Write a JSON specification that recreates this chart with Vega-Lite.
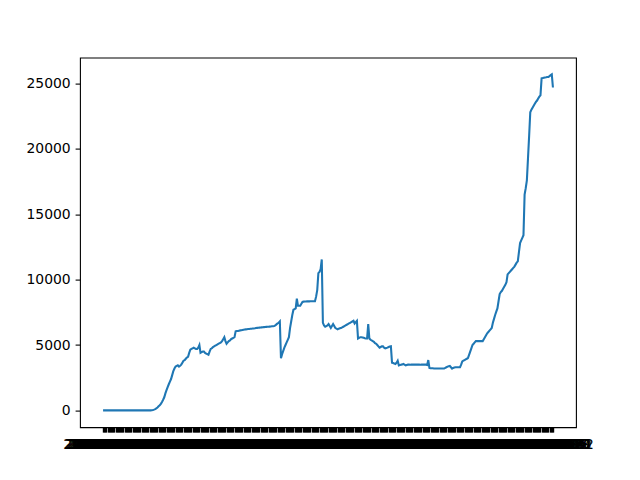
{"$schema":"https://vega.github.io/schema/vega-lite/v6.json","width":496,"height":369.6,"autosize":{"type":"none"},"padding":{"left":80,"top":57.6,"right":64,"bottom":52.8},"background":"white","config":{"view":{"stroke":"black","strokeWidth":1.1},"font":"DejaVu Sans"},"data":{"values":[
{"d":"2020-01-22","v":0},{"d":"2020-01-23","v":0},{"d":"2020-01-24","v":0},{"d":"2020-01-25","v":0},{"d":"2020-01-26","v":0},{"d":"2020-01-27","v":0},{"d":"2020-01-28","v":0},{"d":"2020-01-29","v":0},{"d":"2020-01-30","v":0},{"d":"2020-01-31","v":0},
{"d":"2020-02-01","v":0},{"d":"2020-02-02","v":0},{"d":"2020-02-03","v":0},{"d":"2020-02-04","v":0},{"d":"2020-02-05","v":0},{"d":"2020-02-06","v":0},{"d":"2020-02-07","v":0},{"d":"2020-02-08","v":0},{"d":"2020-02-09","v":0},{"d":"2020-02-10","v":0},{"d":"2020-02-11","v":0},{"d":"2020-02-12","v":0},{"d":"2020-02-13","v":0},{"d":"2020-02-14","v":0},{"d":"2020-02-15","v":0},{"d":"2020-02-16","v":0},{"d":"2020-02-17","v":0},{"d":"2020-02-18","v":0},{"d":"2020-02-19","v":0},{"d":"2020-02-20","v":0},{"d":"2020-02-21","v":0},{"d":"2020-02-22","v":0},{"d":"2020-02-23","v":0},{"d":"2020-02-24","v":0},{"d":"2020-02-25","v":0},{"d":"2020-02-26","v":0},{"d":"2020-02-27","v":0},{"d":"2020-02-28","v":0},{"d":"2020-02-29","v":0},
{"d":"2020-03-01","v":0},{"d":"2020-03-02","v":0},{"d":"2020-03-03","v":0},{"d":"2020-03-04","v":0},{"d":"2020-03-05","v":10},{"d":"2020-03-06","v":30},{"d":"2020-03-07","v":60},{"d":"2020-03-08","v":100},{"d":"2020-03-09","v":150},{"d":"2020-03-10","v":230},{"d":"2020-03-11","v":320},{"d":"2020-03-12","v":400},{"d":"2020-03-13","v":500},{"d":"2020-03-14","v":650},{"d":"2020-03-15","v":820},{"d":"2020-03-16","v":1000},{"d":"2020-03-17","v":1300},{"d":"2020-03-18","v":1550},{"d":"2020-03-19","v":1780},{"d":"2020-03-20","v":2000},{"d":"2020-03-21","v":2200},{"d":"2020-03-22","v":2400},{"d":"2020-03-23","v":2700},{"d":"2020-03-24","v":3000},{"d":"2020-03-25","v":3200},{"d":"2020-03-26","v":3350},{"d":"2020-03-27","v":3400},{"d":"2020-03-28","v":3450},{"d":"2020-03-29","v":3350},{"d":"2020-03-30","v":3420},{"d":"2020-03-31","v":3500},
{"d":"2020-04-01","v":3650},{"d":"2020-04-02","v":3800},{"d":"2020-04-03","v":3850},{"d":"2020-04-04","v":3950},{"d":"2020-04-05","v":4050},{"d":"2020-04-06","v":4100},{"d":"2020-04-07","v":4400},{"d":"2020-04-08","v":4650},{"d":"2020-04-09","v":4700},{"d":"2020-04-10","v":4750},{"d":"2020-04-11","v":4800},{"d":"2020-04-12","v":4750},{"d":"2020-04-13","v":4700},{"d":"2020-04-14","v":4700},{"d":"2020-04-15","v":4800},{"d":"2020-04-16","v":5000},{"d":"2020-04-17","v":4400},{"d":"2020-04-18","v":4450},{"d":"2020-04-19","v":4500},{"d":"2020-04-20","v":4500},{"d":"2020-04-21","v":4400},{"d":"2020-04-22","v":4350},{"d":"2020-04-23","v":4300},{"d":"2020-04-24","v":4250},{"d":"2020-04-25","v":4500},{"d":"2020-04-26","v":4700},{"d":"2020-04-27","v":4750},{"d":"2020-04-28","v":4850},{"d":"2020-04-29","v":4900},{"d":"2020-04-30","v":4950},
{"d":"2020-05-01","v":5000},{"d":"2020-05-02","v":5050},{"d":"2020-05-03","v":5100},{"d":"2020-05-04","v":5150},{"d":"2020-05-05","v":5200},{"d":"2020-05-06","v":5300},{"d":"2020-05-07","v":5450},{"d":"2020-05-08","v":5600},{"d":"2020-05-09","v":5300},{"d":"2020-05-10","v":5100},{"d":"2020-05-11","v":5200},{"d":"2020-05-12","v":5300},{"d":"2020-05-13","v":5350},{"d":"2020-05-14","v":5450},{"d":"2020-05-15","v":5500},{"d":"2020-05-16","v":5550},{"d":"2020-05-17","v":5600},{"d":"2020-05-18","v":6050},{"d":"2020-05-19","v":6070},{"d":"2020-05-20","v":6080},{"d":"2020-05-21","v":6100},{"d":"2020-05-22","v":6120},{"d":"2020-05-23","v":6130},{"d":"2020-05-24","v":6150},{"d":"2020-05-25","v":6170},{"d":"2020-05-26","v":6190},{"d":"2020-05-27","v":6200},{"d":"2020-05-28","v":6210},{"d":"2020-05-29","v":6220},{"d":"2020-05-30","v":6230},{"d":"2020-05-31","v":6240},
{"d":"2020-06-01","v":6250},{"d":"2020-06-02","v":6260},{"d":"2020-06-03","v":6270},{"d":"2020-06-04","v":6280},{"d":"2020-06-05","v":6300},{"d":"2020-06-06","v":6310},{"d":"2020-06-07","v":6320},{"d":"2020-06-08","v":6330},{"d":"2020-06-09","v":6340},{"d":"2020-06-10","v":6350},{"d":"2020-06-11","v":6360},{"d":"2020-06-12","v":6370},{"d":"2020-06-13","v":6380},{"d":"2020-06-14","v":6390},{"d":"2020-06-15","v":6400},{"d":"2020-06-16","v":6400},{"d":"2020-06-17","v":6410},{"d":"2020-06-18","v":6420},{"d":"2020-06-19","v":6430},{"d":"2020-06-20","v":6440},{"d":"2020-06-21","v":6450},{"d":"2020-06-22","v":6500},{"d":"2020-06-23","v":6580},{"d":"2020-06-24","v":6650},{"d":"2020-06-25","v":6700},{"d":"2020-06-26","v":6800},{"d":"2020-06-27","v":4000},{"d":"2020-06-28","v":4300},{"d":"2020-06-29","v":4550},{"d":"2020-06-30","v":4800},
{"d":"2020-07-01","v":5000},{"d":"2020-07-02","v":5200},{"d":"2020-07-03","v":5400},{"d":"2020-07-04","v":5600},{"d":"2020-07-05","v":6300},{"d":"2020-07-06","v":6800},{"d":"2020-07-07","v":7300},{"d":"2020-07-08","v":7700},{"d":"2020-07-09","v":7750},{"d":"2020-07-10","v":7800},{"d":"2020-07-11","v":8550},{"d":"2020-07-12","v":8000},{"d":"2020-07-13","v":8000},{"d":"2020-07-14","v":8000},{"d":"2020-07-15","v":8150},{"d":"2020-07-16","v":8300},{"d":"2020-07-17","v":8320},{"d":"2020-07-18","v":8330},{"d":"2020-07-19","v":8330},{"d":"2020-07-20","v":8340},{"d":"2020-07-21","v":8340},{"d":"2020-07-22","v":8340},{"d":"2020-07-23","v":8350},{"d":"2020-07-24","v":8350},{"d":"2020-07-25","v":8350},{"d":"2020-07-26","v":8350},{"d":"2020-07-27","v":8350},{"d":"2020-07-28","v":8700},{"d":"2020-07-29","v":9200},{"d":"2020-07-30","v":10500},{"d":"2020-07-31","v":10600},
{"d":"2020-08-01","v":10800},{"d":"2020-08-02","v":11550},{"d":"2020-08-03","v":6700},{"d":"2020-08-04","v":6500},{"d":"2020-08-05","v":6400},{"d":"2020-08-06","v":6450},{"d":"2020-08-07","v":6500},{"d":"2020-08-08","v":6600},{"d":"2020-08-09","v":6450},{"d":"2020-08-10","v":6300},{"d":"2020-08-11","v":6450},{"d":"2020-08-12","v":6600},{"d":"2020-08-13","v":6450},{"d":"2020-08-14","v":6300},{"d":"2020-08-15","v":6250},{"d":"2020-08-16","v":6200},{"d":"2020-08-17","v":6250},{"d":"2020-08-18","v":6280},{"d":"2020-08-19","v":6300},{"d":"2020-08-20","v":6350},{"d":"2020-08-21","v":6400},{"d":"2020-08-22","v":6450},{"d":"2020-08-23","v":6500},{"d":"2020-08-24","v":6550},{"d":"2020-08-25","v":6600},{"d":"2020-08-26","v":6650},{"d":"2020-08-27","v":6700},{"d":"2020-08-28","v":6750},{"d":"2020-08-29","v":6800},{"d":"2020-08-30","v":6850},{"d":"2020-08-31","v":6650},
{"d":"2020-09-01","v":6750},{"d":"2020-09-02","v":6850},{"d":"2020-09-03","v":5500},{"d":"2020-09-04","v":5550},{"d":"2020-09-05","v":5600},{"d":"2020-09-06","v":5600},{"d":"2020-09-07","v":5580},{"d":"2020-09-08","v":5550},{"d":"2020-09-09","v":5520},{"d":"2020-09-10","v":5500},{"d":"2020-09-11","v":5500},{"d":"2020-09-12","v":6600},{"d":"2020-09-13","v":5500},{"d":"2020-09-14","v":5400},{"d":"2020-09-15","v":5350},{"d":"2020-09-16","v":5300},{"d":"2020-09-17","v":5250},{"d":"2020-09-18","v":5150},{"d":"2020-09-19","v":5100},{"d":"2020-09-20","v":5000},{"d":"2020-09-21","v":4900},{"d":"2020-09-22","v":4800},{"d":"2020-09-23","v":4850},{"d":"2020-09-24","v":4900},{"d":"2020-09-25","v":4900},{"d":"2020-09-26","v":4800},{"d":"2020-09-27","v":4750},{"d":"2020-09-28","v":4780},{"d":"2020-09-29","v":4800},{"d":"2020-09-30","v":4850},
{"d":"2020-10-01","v":4880},{"d":"2020-10-02","v":4900},{"d":"2020-10-03","v":3650},{"d":"2020-10-04","v":3620},{"d":"2020-10-05","v":3580},{"d":"2020-10-06","v":3550},{"d":"2020-10-07","v":3650},{"d":"2020-10-08","v":3800},{"d":"2020-10-09","v":3450},{"d":"2020-10-10","v":3480},{"d":"2020-10-11","v":3500},{"d":"2020-10-12","v":3520},{"d":"2020-10-13","v":3550},{"d":"2020-10-14","v":3500},{"d":"2020-10-15","v":3450},{"d":"2020-10-16","v":3480},{"d":"2020-10-17","v":3500},{"d":"2020-10-18","v":3500},{"d":"2020-10-19","v":3490},{"d":"2020-10-20","v":3500},{"d":"2020-10-21","v":3500},{"d":"2020-10-22","v":3510},{"d":"2020-10-23","v":3500},{"d":"2020-10-24","v":3500},{"d":"2020-10-25","v":3500},{"d":"2020-10-26","v":3510},{"d":"2020-10-27","v":3500},{"d":"2020-10-28","v":3490},{"d":"2020-10-29","v":3500},{"d":"2020-10-30","v":3500},{"d":"2020-10-31","v":3500},
{"d":"2020-11-01","v":3500},{"d":"2020-11-02","v":3500},{"d":"2020-11-03","v":3480},{"d":"2020-11-04","v":3850},{"d":"2020-11-05","v":3250},{"d":"2020-11-06","v":3230},{"d":"2020-11-07","v":3220},{"d":"2020-11-08","v":3220},{"d":"2020-11-09","v":3210},{"d":"2020-11-10","v":3200},{"d":"2020-11-11","v":3200},{"d":"2020-11-12","v":3200},{"d":"2020-11-13","v":3200},{"d":"2020-11-14","v":3200},{"d":"2020-11-15","v":3200},{"d":"2020-11-16","v":3200},{"d":"2020-11-17","v":3200},{"d":"2020-11-18","v":3200},{"d":"2020-11-19","v":3250},{"d":"2020-11-20","v":3300},{"d":"2020-11-21","v":3350},{"d":"2020-11-22","v":3380},{"d":"2020-11-23","v":3400},{"d":"2020-11-24","v":3300},{"d":"2020-11-25","v":3200},{"d":"2020-11-26","v":3250},{"d":"2020-11-27","v":3280},{"d":"2020-11-28","v":3300},{"d":"2020-11-29","v":3300},{"d":"2020-11-30","v":3300},
{"d":"2020-12-01","v":3300},{"d":"2020-12-02","v":3300},{"d":"2020-12-03","v":3500},{"d":"2020-12-04","v":3750},{"d":"2020-12-05","v":3800},{"d":"2020-12-06","v":3850},{"d":"2020-12-07","v":3900},{"d":"2020-12-08","v":3950},{"d":"2020-12-09","v":4000},{"d":"2020-12-10","v":4250},{"d":"2020-12-11","v":4500},{"d":"2020-12-12","v":4750},{"d":"2020-12-13","v":5000},{"d":"2020-12-14","v":5100},{"d":"2020-12-15","v":5200},{"d":"2020-12-16","v":5300},{"d":"2020-12-17","v":5300},{"d":"2020-12-18","v":5300},{"d":"2020-12-19","v":5300},{"d":"2020-12-20","v":5300},{"d":"2020-12-21","v":5300},{"d":"2020-12-22","v":5300},{"d":"2020-12-23","v":5450},{"d":"2020-12-24","v":5600},{"d":"2020-12-25","v":5750},{"d":"2020-12-26","v":5900},{"d":"2020-12-27","v":6000},{"d":"2020-12-28","v":6100},{"d":"2020-12-29","v":6200},{"d":"2020-12-30","v":6300},{"d":"2020-12-31","v":6700},
{"d":"2021-01-01","v":7000},{"d":"2021-01-02","v":7300},{"d":"2021-01-03","v":7550},{"d":"2021-01-04","v":7800},{"d":"2021-01-05","v":8350},{"d":"2021-01-06","v":8900},{"d":"2021-01-07","v":9050},{"d":"2021-01-08","v":9150},{"d":"2021-01-09","v":9300},{"d":"2021-01-10","v":9450},{"d":"2021-01-11","v":9600},{"d":"2021-01-12","v":9800},{"d":"2021-01-13","v":10400},{"d":"2021-01-14","v":10500},{"d":"2021-01-15","v":10600},{"d":"2021-01-16","v":10700},{"d":"2021-01-17","v":10800},{"d":"2021-01-18","v":10900},{"d":"2021-01-19","v":11000},{"d":"2021-01-20","v":11150},{"d":"2021-01-21","v":11300},{"d":"2021-01-22","v":11400},{"d":"2021-01-23","v":12100},{"d":"2021-01-24","v":12800},{"d":"2021-01-25","v":13000},{"d":"2021-01-26","v":13200},{"d":"2021-01-27","v":13400},{"d":"2021-01-28","v":16500},{"d":"2021-01-29","v":17000},{"d":"2021-01-30","v":17600},{"d":"2021-01-31","v":19300},
{"d":"2021-02-01","v":21000},{"d":"2021-02-02","v":22800},{"d":"2021-02-03","v":23000},{"d":"2021-02-04","v":23150},{"d":"2021-02-05","v":23300},{"d":"2021-02-06","v":23450},{"d":"2021-02-07","v":23600},{"d":"2021-02-08","v":23700},{"d":"2021-02-09","v":23850},{"d":"2021-02-10","v":24000},{"d":"2021-02-11","v":24100},{"d":"2021-02-12","v":25400},{"d":"2021-02-13","v":25420},{"d":"2021-02-14","v":25450},{"d":"2021-02-15","v":25470},{"d":"2021-02-16","v":25480},{"d":"2021-02-17","v":25500},{"d":"2021-02-18","v":25500},{"d":"2021-02-19","v":25570},{"d":"2021-02-20","v":25640},{"d":"2021-02-21","v":25700},{"d":"2021-02-22","v":24700}
]},"mark":{"type":"line","color":"#1f77b4","strokeWidth":2.08},"encoding":{"x":{"field":"d","type":"ordinal","scale":{"type":"point","range":[22.5,473.5]},"axis":{"title":null,"labelAngle":0,"labelOverlap":false,"labelFontSize":13.9,"labelFont":"DejaVu Sans","labelColor":"black","tickColor":"black","tickSize":4.9,"tickWidth":1.4,"labelPadding":4.9,"domain":false,"grid":false}},"y":{"field":"v","type":"quantitative","scale":{"domain":[-1285,26985],"nice":false,"zero":false},"axis":{"title":null,"values":[0,5000,10000,15000,20000,25000],"format":"d","labelFontSize":13.9,"labelFont":"DejaVu Sans","labelColor":"black","tickColor":"black","tickSize":4.9,"tickWidth":1.1,"labelPadding":4.9,"domain":false,"grid":false}}}}
